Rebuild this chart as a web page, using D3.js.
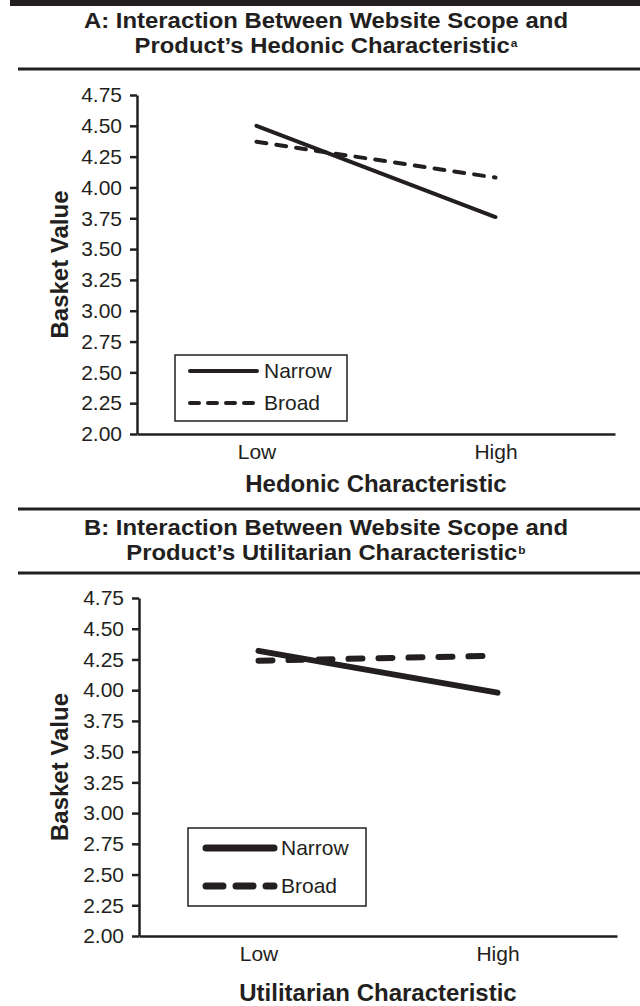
<!DOCTYPE html>
<html>
<head>
<meta charset="utf-8">
<script src="https://cdn.jsdelivr.net/npm/d3@7"></script>
<style>
  html, body { margin: 0; padding: 0; background: #fff; }
  svg { display: block; }
  text { fill: #231f20; font-family: "Liberation Sans", Arial, Helvetica, sans-serif; }
</style>
</head>
<body>
<svg id="chart" width="640" height="1006"></svg>
<script>
// ---------- data ----------
const categories = ["Low", "High"];
const yTickValues = [2.00, 2.25, 2.50, 2.75, 3.00, 3.25, 3.50, 3.75, 4.00, 4.25, 4.50, 4.75];
const seriesNames = ["Narrow", "Broad"];

const hedonicNarrow = [4.50, 3.76];
const hedonicBroad  = [4.37, 4.08];

const utilitarianNarrow = [4.32, 3.98];
const utilitarianBroad  = [4.24, 4.28];

const panelTitles = [
  ["A: Interaction Between Website Scope and", "Product\u2019s Hedonic Characteristic", "a"],
  ["B: Interaction Between Website Scope and", "Product\u2019s Utilitarian Characteristic", "b"]
];
const xAxisTitles = ["Hedonic Characteristic", "Utilitarian Characteristic"];
const yAxisTitle = "Basket Value";

// ---------- layout ----------
const ink = "#231f20";
const svg = d3.select("#chart");

// top heavy rule
svg.append("rect").attr("x", 10).attr("y", 0).attr("width", 630).attr("height", 6).attr("fill", ink);

const panels = [
  {
    title: panelTitles[0], xTitle: xAxisTitles[0],
    narrow: hedonicNarrow, broad: hedonicBroad,
    t1: 28, t2: 53, sepTitle: 69,
    yTop: 95, yBot: 434, xL: 137, xR: 615,
    xTitleY: 492, sepBottom: 509,
    lw: 4, dash: "10,10",
    legend: { x: 175, y: 355, w: 172, h: 66, l1: 371, l2: 403, lx1: 190, lx2: 257, tx: 264, lw: 4, dash: "9,9" }
  },
  {
    title: panelTitles[1], xTitle: xAxisTitles[1],
    narrow: utilitarianNarrow, broad: utilitarianBroad,
    t1: 535, t2: 560, sepTitle: 573,
    yTop: 598, yBot: 936, xL: 139, xR: 617,
    xTitleY: 1001, sepBottom: null,
    lw: 6, dash: "14,16",
    legend: { x: 188, y: 828, w: 178, h: 78, l1: 848, l2: 886, lx1: 206, lx2: 274, tx: 281, lw: 7, dash: "17,13" }
  }
];

const titleLine1Width = 484;

panels.forEach(p => {
  // titles
  const t1 = svg.append("text").attr("x", 326).attr("y", p.t1).attr("text-anchor", "middle")
    .attr("font-size", 22).attr("font-weight", "bold").text(p.title[0]);
  const t2 = svg.append("text").attr("x", 326).attr("y", p.t2).attr("text-anchor", "middle")
    .attr("font-size", 22).attr("font-weight", "bold");
  t2.append("tspan").text(p.title[1]);
  t2.append("tspan").attr("font-size", 11).attr("dx", 1).attr("dy", -6).text(p.title[2]);
  const k = titleLine1Width / t1.node().getComputedTextLength();
  [t1, t2].forEach(t => {
    const len = t.node().getComputedTextLength();
    t.attr("textLength", len * k).attr("lengthAdjust", "spacingAndGlyphs");
  });

  // rule under title
  svg.append("line").attr("x1", 18).attr("x2", 640).attr("y1", p.sepTitle).attr("y2", p.sepTitle)
    .attr("stroke", ink).attr("stroke-width", 3);
  if (p.sepBottom) {
    svg.append("line").attr("x1", 18).attr("x2", 640).attr("y1", p.sepBottom).attr("y2", p.sepBottom)
      .attr("stroke", ink).attr("stroke-width", 3);
  }

  // scales
  const x = d3.scalePoint().domain(categories).range([p.xL, p.xR]).padding(0.5);
  const y = d3.scaleLinear().domain([2.0, 4.75]).range([p.yBot, p.yTop]);

  // y axis
  const gy = svg.append("g").attr("transform", `translate(${p.xL},0)`)
    .call(d3.axisLeft(y).tickValues(yTickValues).tickFormat(d3.format(".2f"))
      .tickSize(7).tickSizeOuter(0).tickPadding(8));
  gy.selectAll("text").attr("font-size", 21).attr("fill", ink)
    .attr("font-family", "'Liberation Sans', Arial, sans-serif");
  gy.selectAll("line").attr("stroke", ink).attr("stroke-width", 2.5);
  gy.select(".domain").attr("stroke", ink).attr("stroke-width", 2.5);

  // x axis
  const gx = svg.append("g").attr("transform", `translate(0,${p.yBot})`)
    .call(d3.axisBottom(x).tickSize(0).tickSizeOuter(0).tickPadding(10));
  gx.selectAll("text").attr("font-size", 21).attr("fill", ink)
    .attr("font-family", "'Liberation Sans', Arial, sans-serif");
  gx.select(".domain").attr("stroke", ink).attr("stroke-width", 2.5);

  // axis titles
  svg.append("text").attr("x", (p.xL + p.xR) / 2).attr("y", p.xTitleY).attr("text-anchor", "middle")
    .attr("font-size", 24).attr("font-weight", "bold").text(p.xTitle);
  svg.append("text").attr("transform", `translate(68,${(p.yTop + p.yBot) / 2}) rotate(-90)`)
    .attr("text-anchor", "middle").attr("font-size", 24).attr("font-weight", "bold").text(yAxisTitle);

  // lines
  const line = d3.line().x((d, i) => x(categories[i])).y(d => y(d));
  svg.append("path").datum(p.broad).attr("d", line).attr("fill", "none").attr("stroke", ink)
    .attr("stroke-width", p.lw).attr("stroke-dasharray", p.dash).attr("stroke-linecap", "round");
  svg.append("path").datum(p.narrow).attr("d", line).attr("fill", "none").attr("stroke", ink)
    .attr("stroke-width", p.lw).attr("stroke-linecap", "round");

  // legend
  const L = p.legend;
  svg.append("rect").attr("x", L.x).attr("y", L.y).attr("width", L.w).attr("height", L.h)
    .attr("fill", "#fff").attr("stroke", ink).attr("stroke-width", 1.5);
  [[seriesNames[0], L.l1, null], [seriesNames[1], L.l2, L.dash]].forEach(([name, ly, dash]) => {
    const ln = svg.append("line").attr("x1", L.lx1).attr("x2", L.lx2).attr("y1", ly).attr("y2", ly)
      .attr("stroke", ink).attr("stroke-width", L.lw).attr("stroke-linecap", "round");
    if (dash) ln.attr("stroke-dasharray", dash);
    svg.append("text").attr("x", L.tx).attr("y", ly + 7).attr("font-size", 21).text(name);
  });
});
</script>
</body>
</html>
